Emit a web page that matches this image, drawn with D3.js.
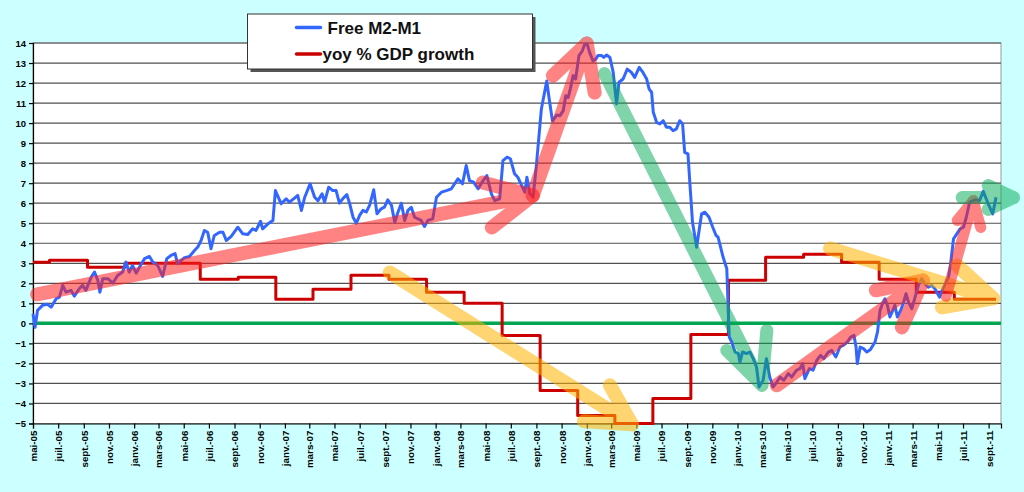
<!DOCTYPE html>
<html>
<head>
<meta charset="utf-8">
<script src="https://cdn.jsdelivr.net/npm/d3@7"></script>
<style>
body { margin: 0; background: #ccffff; }
svg { display: block; font-family: "Liberation Sans", Arial, sans-serif; }
</style>
</head>
<body>
<svg id="chart" width="1024" height="492"></svg>
<script>

// Free M2-M1 (weekly-ish readings) : [date, value]
var m2Points = [
  ["2005-05-01",0.48],["2005-05-06",-0.2],["2005-05-12",0.65],["2005-05-24",0.9],["2005-06-05",0.95],["2005-06-14",0.81],
  ["2005-06-26",1.23],["2005-07-04",1.31],["2005-07-12",1.9],["2005-07-20",1.56],["2005-08-01",1.65],["2005-08-09",1.36],
  ["2005-08-21",1.73],["2005-08-29",1.9],["2005-09-06",1.65],["2005-09-19",2.31],["2005-09-27",2.56],["2005-10-05",2.14],
  ["2005-10-10",1.56],["2005-10-17",2.23],["2005-10-29",2.23],["2005-11-10",2.01],["2005-11-22",2.39],["2005-12-04",2.56],
  ["2005-12-12",3.06],["2005-12-20",2.56],["2005-12-28",2.89],
  ["2006-01-06",2.51],["2006-01-14",2.81],["2006-01-26",3.23],["2006-02-07",3.34],["2006-02-15",3.06],["2006-02-27",2.89],
  ["2006-03-11",2.34],["2006-03-21",3.23],["2006-03-31",3.39],["2006-04-10",3.48],["2006-04-16",2.98],["2006-04-25",3.14],
  ["2006-05-03",3.28],["2006-05-15",3.34],["2006-05-27",3.64],["2006-06-04",3.81],["2006-06-12",4.14],["2006-06-20",4.64],
  ["2006-06-28",4.55],["2006-07-06",3.73],["2006-07-14",4.39],["2006-07-27",4.55],["2006-08-04",4.55],["2006-08-12",4.14],
  ["2006-08-24",4.34],["2006-09-09",4.8],["2006-09-21",4.47],["2006-10-03",4.44],["2006-10-15",4.72],["2006-10-23",4.64],
  ["2006-11-03",5.1],["2006-11-08",4.72],["2006-11-21",4.97],["2006-12-03",5.14],["2006-12-09",6.63],["2006-12-23",5.97],
  ["2007-01-04",6.22],["2007-01-12",6.05],["2007-01-22",6.22],["2007-02-01",6.39],["2007-02-10",5.64],["2007-02-18",6.3],
  ["2007-03-03",6.97],["2007-03-14",6.3],["2007-03-22",6.13],["2007-04-01",6.47],["2007-04-07",6.05],["2007-04-17",6.8],
  ["2007-04-27",6.63],["2007-05-05",6.63],["2007-05-13",6.0],["2007-05-21",6.22],["2007-05-31",6.43],["2007-06-07",5.97],
  ["2007-06-15",5.3],["2007-06-23",5.0],["2007-07-01",5.39],["2007-07-09",5.64],["2007-07-17",5.56],["2007-07-25",5.89],
  ["2007-08-04",6.67],["2007-08-12",5.47],["2007-08-22",5.72],["2007-08-30",5.8],["2007-09-07",6.17],["2007-09-16",5.89],
  ["2007-09-24",5.05],["2007-10-02",5.56],["2007-10-10",6.0],["2007-10-18",5.14],["2007-10-26",5.64],["2007-11-03",5.8],
  ["2007-11-11",5.3],["2007-11-19",5.22],["2007-11-27",5.14],["2007-12-05",4.84],["2007-12-13",5.14],["2007-12-25",5.22],
  ["2008-01-03",6.3],["2008-01-15",6.55],["2008-01-27",6.63],["2008-02-08",6.72],["2008-02-16",6.97],["2008-02-24",7.22],
  ["2008-03-06",6.97],["2008-03-15",7.88],["2008-03-23",7.13],["2008-04-02",7.05],["2008-04-13",6.72],["2008-04-25",7.13],
  ["2008-05-04",7.38],["2008-05-15",6.47],["2008-05-23",6.13],["2008-06-04",6.22],["2008-06-12",8.13],["2008-06-22",8.3],
  ["2008-06-30",8.22],["2008-07-10",7.47],["2008-07-18",7.3],["2008-07-29",6.8],["2008-08-04",6.55],["2008-08-09",7.3],
  ["2008-08-16",6.47],["2008-08-24",6.3],["2008-09-01",7.9],["2008-09-13",10.7],["2008-09-26",12.1],["2008-10-02",11.2],
  ["2008-10-10",10.1],["2008-10-20",10.4],["2008-10-28",10.37],["2008-11-05",10.62],["2008-11-11",11.37],["2008-11-17",11.28],
  ["2008-11-22",11.7],["2008-11-29",12.37],["2008-12-05",12.2],["2008-12-13",13.37],["2008-12-21",13.6],["2008-12-27",13.94],
  ["2009-01-02",13.94],["2009-01-08",13.52],["2009-01-16",13.1],["2009-01-23",13.2],["2009-01-28",13.37],["2009-02-06",13.37],
  ["2009-02-11",13.28],["2009-02-18",13.4],["2009-02-26",13.28],["2009-03-06",12.53],["2009-03-14",10.96],["2009-03-20",12.04],
  ["2009-03-30",12.2],["2009-04-09",12.7],["2009-04-19",12.53],["2009-04-27",12.28],["2009-05-08",12.78],["2009-05-17",12.53],
  ["2009-05-26",12.2],["2009-06-01",11.7],["2009-06-07",11.54],["2009-06-11",10.54],["2009-06-19",10.04],["2009-06-27",9.96],
  ["2009-07-05",10.12],["2009-07-13",9.79],["2009-07-21",9.79],["2009-07-29",9.62],["2009-08-06",9.71],["2009-08-14",10.12],
  ["2009-08-21",9.96],["2009-08-26",8.54],["2009-09-03",8.46],["2009-09-08",6.88],["2009-09-14",5.05],["2009-09-24",3.8],
  ["2009-10-06",5.47],["2009-10-14",5.55],["2009-10-24",5.3],["2009-11-02",4.8],["2009-11-10",4.39],["2009-11-15",4.3],
  ["2009-11-19",3.97],["2009-11-27",3.31],["2009-12-06",2.73],["2009-12-09",1.0],["2009-12-12",-0.68],["2009-12-18",-0.93],
  ["2009-12-26",-1.43],
  ["2010-01-03",-1.51],["2010-01-07",-1.93],["2010-01-13",-1.43],["2010-01-23",-1.51],["2010-01-31",-1.43],["2010-02-08",-1.76],
  ["2010-02-16",-2.18],["2010-02-22",-3.18],["2010-03-04",-2.84],["2010-03-12",-1.76],["2010-03-20",-2.68],["2010-03-28",-3.18],
  ["2010-04-06",-2.93],["2010-04-14",-2.68],["2010-04-23",-2.84],["2010-05-04",-2.51],["2010-05-12",-2.68],["2010-05-24",-2.34],
  ["2010-06-01",-2.26],["2010-06-08",-2.01],["2010-06-13",-2.76],["2010-06-24",-2.26],["2010-07-03",-2.34],["2010-07-12",-1.84],
  ["2010-07-21",-1.6],["2010-07-29",-1.76],["2010-08-09",-1.43],["2010-08-17",-1.35],["2010-08-27",-1.68],["2010-09-06",-1.18],
  ["2010-09-14",-1.1],["2010-09-24",-0.93],["2010-10-02",-0.68],["2010-10-10",-0.6],["2010-10-15",-1.18],["2010-10-18",-2.01],
  ["2010-10-25",-1.18],["2010-11-02",-1.26],["2010-11-10",-1.43],["2010-11-19",-1.3],["2010-11-30",-0.93],["2010-12-06",-0.43],
  ["2010-12-12",0.65],["2010-12-18",0.98],["2010-12-24",1.23],["2010-12-30",0.9],
  ["2011-01-05",0.32],["2011-01-12",0.65],["2011-01-17",0.9],["2011-01-23",0.32],["2011-01-31",0.65],["2011-02-06",0.98],
  ["2011-02-13",1.48],["2011-02-19",1.06],["2011-02-27",0.73],["2011-03-07",1.31],["2011-03-15",1.9],["2011-03-23",2.23],
  ["2011-03-31",1.98],["2011-04-08",1.81],["2011-04-16",1.9],["2011-04-24",1.73],["2011-05-05",1.31],["2011-05-13",1.73],
  ["2011-05-21",2.06],["2011-05-27",2.31],["2011-06-01",2.98],["2011-06-08",4.22],["2011-06-16",4.47],["2011-06-24",4.72],
  ["2011-07-02",4.8],["2011-07-09",5.3],["2011-07-17",6.05],["2011-07-30",6.17],["2011-08-10",6.13],["2011-08-19",6.6],
  ["2011-08-31",5.97],["2011-09-11",5.47],["2011-09-19",6.3]
];

// yoy % GDP growth, quarterly steps (value holds from each date to the next)
var gdpDates = ["2005-05-01","2005-06-10","2005-09-10","2005-12-10","2006-06-10","2006-09-10","2006-12-10",
  "2007-03-10","2007-06-10","2007-09-10","2007-12-10","2008-03-10","2008-06-10","2008-09-10","2008-12-10",
  "2009-03-10","2009-06-10","2009-09-10","2009-12-10","2010-03-10","2010-06-10","2010-09-10","2010-12-10",
  "2011-03-10","2011-06-10","2011-09-19"];
var gdpValues = [3.05, 3.15, 2.8, 3.0, 2.2, 2.3, 1.2,
  1.7, 2.4, 2.2, 1.55, 1.0, -0.6, -3.35, -4.6,
  -5.0, -3.75, -0.55, 2.15, 3.3, 3.45, 3.05, 2.2,
  1.55, 1.2, 1.2];

var zeroLine = [["2005-05-01", 0], ["2011-10-01", 0]];

var yTicks = d3.range(-5, 15);
var xTickLabels = ["mai-05","juil.-05","sept.-05","nov.-05",
  "janv.-06","mars-06","mai-06","juil.-06","sept.-06","nov.-06",
  "janv.-07","mars-07","mai-07","juil.-07","sept.-07","nov.-07",
  "janv.-08","mars-08","mai-08","juil.-08","sept.-08","nov.-08",
  "janv.-09","mars-09","mai-09","juil.-09","sept.-09","nov.-09",
  "janv.-10","mars-10","mai-10","juil.-10","sept.-10","nov.-10",
  "janv.-11","mars-11","mai-11","juil.-11","sept.-11"];

var legendNames = ["Free M2-M1", "yoy % GDP growth"];

// hand-drawn trend arrows: shaft start, tip, two barb ends
var arrows = [
  {kind: "red",    from: ["2005-05-11",1.45], to: ["2008-08-23",6.38], barbs: [["2008-05-16",4.79],["2008-04-24",7.03]]},
  {kind: "red",    from: ["2008-08-23",6.38], to: ["2009-01-01",13.97], barbs: [["2008-10-11",12.37],["2009-01-20",11.52]]},
  {kind: "green",  from: ["2009-02-13",12.47], to: ["2010-03-01",-3.09], barbs: [["2009-12-06",-1.35],["2010-03-13",-0.35]]},
  {kind: "yellow", from: ["2007-09-12",2.54], to: ["2009-04-20",-5.04], barbs: [["2009-02-26",-3.09],["2008-12-25",-4.89]]},
  {kind: "red",    from: ["2010-04-06",-3.09], to: ["2011-03-26",2.14], barbs: [["2010-12-02",1.65],["2011-02-03",-0.2]]},
  {kind: "yellow", from: ["2010-08-13",3.74], to: ["2011-09-12",1.25], barbs: [["2011-06-17",2.89],["2011-05-11",0.8]]},
  {kind: "redSmall", from: ["2011-05-21",1.35], to: ["2011-07-26",6.13], barbs: [["2011-06-17",5.14],["2011-08-13",4.79]]},
  {kind: "green",  from: ["2011-06-29",6.28], to: ["2011-10-31",6.28], barbs: [["2011-08-31",6.88],["2011-08-31",5.69]]}
];

var arrowStyle = {
  red:      {color: "#ff1f1f", width: 14, opacity: 0.55},
  redSmall: {color: "#ff1f1f", width: 11, opacity: 0.55},
  green:    {color: "#00aa55", width: 13, opacity: 0.5},
  yellow:   {color: "#ffb300", width: 14, opacity: 0.55}
};

var parse = d3.timeParse("%Y-%m-%d");
var svg = d3.select("#chart");

var margin = {top: 43, right: 23, bottom: 68, left: 33};
var W = 1024, H = 492;

var x = d3.scaleTime()
  .domain([parse("2005-05-01"), parse("2011-10-01")])
  .range([margin.left, W - margin.right]);

var y = d3.scaleLinear()
  .domain([-5, 14])
  .range([H - margin.bottom - 0.5, margin.top]);

// plot area
svg.append("rect")
  .attr("x", margin.left).attr("y", margin.top)
  .attr("width", W - margin.right - margin.left)
  .attr("height", y(-5) - margin.top)
  .attr("fill", "#ffffff")
  .attr("stroke", "#9a9a9a")
  .attr("stroke-width", 1);

// gridlines
svg.append("g")
  .selectAll("line")
  .data(yTicks.filter(d => d > -5))
  .join("line")
  .attr("x1", margin.left).attr("x2", W - margin.right)
  .attr("y1", d => y(d)).attr("y2", d => y(d))
  .attr("stroke", "#505050")
  .attr("stroke-width", 1.2);

// y axis
var yAxis = svg.append("g")
  .attr("transform", "translate(" + margin.left + ",0)")
  .call(d3.axisLeft(y).tickValues(yTicks).tickSize(4).tickPadding(3).tickFormat(d3.format("d")));
yAxis.selectAll("text")
  .attr("font-size", "9.5px").attr("font-weight", "bold").attr("fill", "#000")
  .attr("font-family", "Liberation Sans, Arial, sans-serif");
yAxis.selectAll("line, path").attr("stroke", "#000").attr("stroke-width", 1.2);

// x axis
var tickDates = xTickLabels.map((d, i) => d3.timeMonth.offset(parse("2005-05-01"), 2 * i));
var xAxis = svg.append("g")
  .attr("transform", "translate(0," + y(-5) + ")")
  .call(d3.axisBottom(x).tickValues(tickDates).tickSize(5).tickFormat((d, i) => xTickLabels[i]));
xAxis.selectAll("text")
  .attr("transform", "rotate(-90)")
  .attr("text-anchor", "end")
  .attr("x", -7).attr("y", 0).attr("dy", "0.35em")
  .attr("font-size", "9.8px").attr("font-weight", "bold").attr("fill", "#000")
  .attr("font-family", "Liberation Sans, Arial, sans-serif");
xAxis.selectAll("line, path").attr("stroke", "#000").attr("stroke-width", 1.2);

var line = d3.line()
  .x(d => x(parse(d[0])))
  .y(d => y(d[1]));

// zero line
svg.append("path")
  .datum(zeroLine)
  .attr("d", line)
  .attr("fill", "none")
  .attr("stroke", "#00a651")
  .attr("stroke-width", 3.5);

// GDP step line
var gdpPoints = gdpDates.map((d, i) => [d, gdpValues[i]]);
svg.append("path")
  .datum(gdpPoints)
  .attr("d", line.curve(d3.curveStepAfter))
  .attr("fill", "none")
  .attr("stroke", "#cc0000")
  .attr("stroke-width", 3)
  .attr("stroke-linejoin", "round");
line.curve(d3.curveLinear);

// M2-M1 line
svg.append("path")
  .datum(m2Points)
  .attr("d", line)
  .attr("fill", "none")
  .attr("stroke", "#3366ff")
  .attr("stroke-width", 3)
  .attr("stroke-linejoin", "round");

// arrows on top
arrows.forEach(a => {
  var st = arrowStyle[a.kind];
  var g = svg.append("g").attr("opacity", st.opacity);
  g.append("path")
    .datum([a.from, a.to])
    .attr("d", line);
  g.append("path")
    .datum([a.barbs[0], a.to, a.barbs[1]])
    .attr("d", line);
  g.selectAll("path")
    .attr("fill", "none")
    .attr("stroke", st.color)
    .attr("stroke-width", st.width)
    .attr("stroke-linecap", "round")
    .attr("stroke-linejoin", "round");
});

// legend
var lg = svg.append("g").attr("transform", "translate(247.5,14)");
lg.append("rect")
  .attr("x", 3).attr("y", 3).attr("width", 285).attr("height", 55)
  .attr("fill", "#555");
lg.append("rect")
  .attr("width", 285).attr("height", 55)
  .attr("fill", "#fff").attr("stroke", "#333").attr("stroke-width", 1);
var legendColors = ["#3366ff", "#cc0000"];
legendNames.forEach((name, i) => {
  var ly = i === 0 ? 13.5 : 40;
  lg.append("line")
    .attr("x1", 49).attr("x2", 73).attr("y1", ly).attr("y2", ly)
    .attr("stroke", legendColors[i]).attr("stroke-width", 3.5)
    .attr("stroke-linecap", "round");
  lg.append("text")
    .attr("x", i === 0 ? 80 : 75).attr("y", ly + 6)
    .attr("font-size", "17px").attr("font-weight", "bold").attr("fill", "#111")
    .text(name);
});

</script>
</body>
</html>
